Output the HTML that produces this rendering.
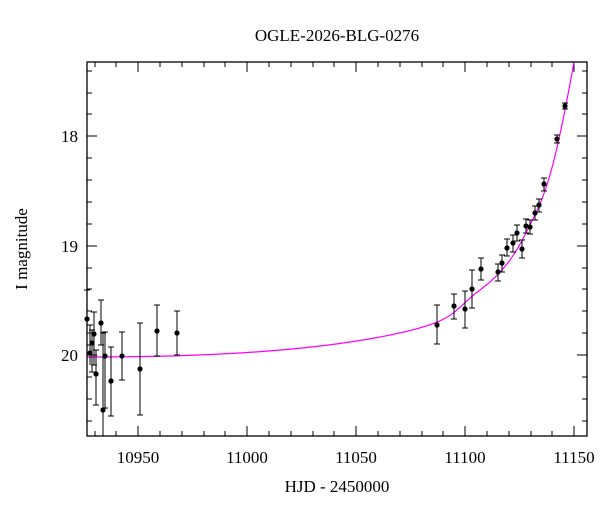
<!DOCTYPE html>
<html><head><style>body{margin:0;background:#fff}</style></head><body>
<svg id="s" width="600" height="512" xmlns="http://www.w3.org/2000/svg" font-family="Liberation Serif, serif">
<rect width="600" height="512" fill="#fff"/>
<text x="337" y="41" font-size="17" text-anchor="middle">OGLE-2026-BLG-0276</text>
<text x="337" y="492" font-size="17" text-anchor="middle">HJD - 2450000</text>
<text transform="translate(27,249) rotate(-90)" font-size="17" text-anchor="middle">I magnitude</text>
<g font-size="17" text-anchor="middle">
<text x="138" y="463">10950</text><text x="247" y="463">11000</text><text x="356" y="463">11050</text><text x="465" y="463">11100</text><text x="574" y="463">11150</text>
</g>
<g font-size="17" text-anchor="end">
<text x="78" y="142">18</text><text x="78" y="252">19</text><text x="78" y="361">20</text>
</g>
<g stroke="#000" stroke-width="1">
<path d="M138,436v-10M247,436v-10M356,436v-10M465,436v-10M574,436v-10M138,62v10M247,62v10M356,62v10M465,62v10M574,62v10
M95,436v-5M116,436v-5M160,436v-5M182,436v-5M204,436v-5M225,436v-5M269,436v-5M291,436v-5M313,436v-5M334,436v-5M378,436v-5M400,436v-5M422,436v-5M443,436v-5M487,436v-5M509,436v-5M531,436v-5M552,436v-5
M95,62v5M116,62v5M160,62v5M182,62v5M204,62v5M225,62v5M269,62v5M291,62v5M313,62v5M334,62v5M378,62v5M400,62v5M422,62v5M443,62v5M487,62v5M509,62v5M531,62v5M552,62v5
M87,136h10M87,246h10M87,355h10M587,136h-10M587,246h-10M587,355h-10
M87,71h5M87,93h5M87,114h5M87,158h5M87,180h5M87,202h5M87,224h5M87,268h5M87,289h5M87,311h5M87,333h5M87,377h5M87,399h5M87,421h5
M587,71h-5M587,93h-5M587,114h-5M587,158h-5M587,180h-5M587,202h-5M587,224h-5M587,268h-5M587,289h-5M587,311h-5M587,333h-5M587,377h-5M587,399h-5M587,421h-5"/>
</g>
<path fill="none" stroke="#f0f" stroke-width="1.2" d="M87,357 C200,357 300,352 380,337 S450,312 480,290 S520,245 535,215 S560,140 574,62"/>
<g stroke="#000" stroke-width="1">
<path d="M87,290v55M90,325v40M92,330v42M94,312v53M101,300v45M96,350v55M103,333v103M105,332v76M111,347v69M122,332v48M140,323v92M157,305v51M177,311v44
M437,305v39M454,294v25M465,291v37M472,270v38M481,258v22M498,264v17M502,255v17M507,239v17M513,235v17M517,225v16M522,240v18M526,219v14M530,220v14M535,206v14M539,199v13M544,178v13M557,135v8M565,103v6
M84,290h6M87,325h6M89,330h6M91,312h6M98,300h6M93,350h6M100,333h6M102,332h6M108,347h6M119,332h6M137,323h6M154,305h6M174,311h6
M87,345h6M89,372h6M91,365h6M98,345h6M93,405h6M102,408h6M108,416h6M119,380h6M137,415h6M154,356h6M174,355h6
M434,305h6M451,294h6M462,291h6M469,270h6M478,258h6M495,264h6M499,255h6M504,239h6M510,235h6M514,225h6M519,240h6M523,219h6M527,220h6M532,206h6M536,199h6M541,178h6M554,135h6M562,103h6
M434,344h6M451,319h6M462,328h6M469,308h6M478,280h6M495,281h6M499,272h6M504,256h6M510,252h6M514,241h6M519,258h6M523,233h6M527,234h6M532,220h6M536,212h6M541,191h6M554,143h6M562,109h6"/>
</g>
<g fill="#000">
<circle cx="87" cy="319" r="2.6"/><circle cx="90" cy="353" r="2.6"/><circle cx="92" cy="343" r="2.6"/><circle cx="94" cy="334" r="2.6"/><circle cx="101" cy="323" r="2.6"/><circle cx="96" cy="374" r="2.6"/><circle cx="105" cy="356" r="2.6"/><circle cx="103" cy="410" r="2.6"/><circle cx="111" cy="381" r="2.6"/><circle cx="122" cy="356" r="2.6"/><circle cx="140" cy="369" r="2.6"/><circle cx="157" cy="331" r="2.6"/><circle cx="177" cy="333" r="2.6"/>
<circle cx="437" cy="325" r="2.6"/><circle cx="454" cy="306" r="2.6"/><circle cx="465" cy="309" r="2.6"/><circle cx="472" cy="289" r="2.6"/><circle cx="481" cy="269" r="2.6"/><circle cx="498" cy="272" r="2.6"/><circle cx="502" cy="263" r="2.6"/><circle cx="507" cy="248" r="2.6"/><circle cx="513" cy="243" r="2.6"/><circle cx="517" cy="233" r="2.6"/><circle cx="522" cy="249" r="2.6"/><circle cx="526" cy="226" r="2.6"/><circle cx="530" cy="227" r="2.6"/><circle cx="535" cy="213" r="2.6"/><circle cx="539" cy="205" r="2.6"/><circle cx="544" cy="184" r="2.6"/><circle cx="557" cy="139" r="2.6"/><circle cx="565" cy="106" r="2.6"/>
</g>
<rect x="87" y="62" width="500" height="374" fill="none" stroke="#000" stroke-width="1.3"/>
</svg>
</body></html>
